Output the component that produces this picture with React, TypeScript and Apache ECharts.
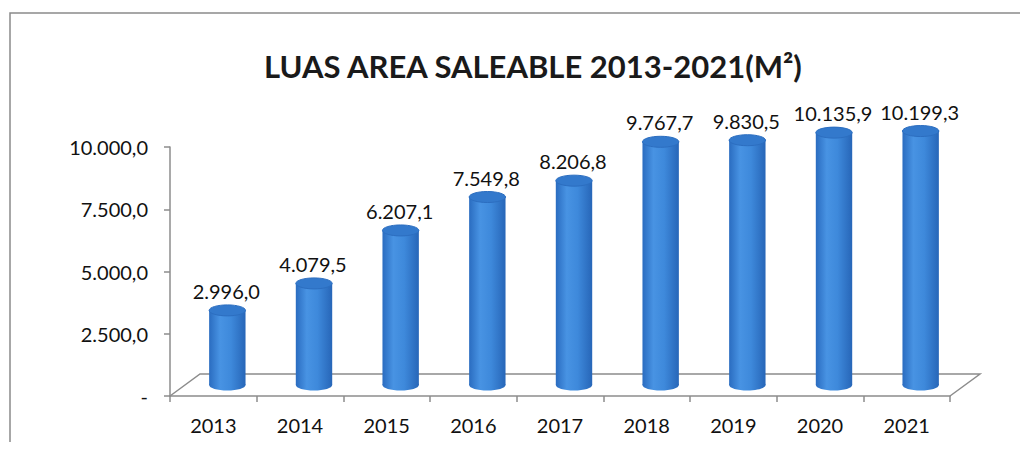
import React, { useEffect, useRef } from "react";
import * as echarts from "echarts";

const years = ["2013", "2014", "2015", "2016", "2017", "2018", "2019", "2020", "2021"];
const saleable = [2996.0, 4079.5, 6207.1, 7549.8, 8206.8, 9767.7, 9830.5, 10135.9, 10199.3];
const yTicks = [0, 2500, 5000, 7500, 10000];
const titleText = "LUAS AREA SALEABLE 2013-2021(M²)";

const FONT = "Lato, 'Open Sans', sans-serif";

function fmtID(v: number): string {
  const fixed = v.toFixed(1);
  const [ip, dp] = fixed.split(".");
  const withDots = ip.replace(/\B(?=(\d{3})+(?!\d))/g, ".");
  return withDots + "," + dp;
}

export default function App() {
  const ref = useRef<HTMLDivElement>(null);
  useEffect(() => {
    if (!ref.current) return;
    const chart = echarts.init(ref.current, undefined, { renderer: "svg" });
    const DX = 14;
    const DY = -11;
    const bodyGrad = new echarts.graphic.LinearGradient(0, 0, 1, 0, [
      { offset: 0, color: "#2a6cc0" },
      { offset: 0.3, color: "#4893e3" },
      { offset: 0.6, color: "#3e89db" },
      { offset: 1, color: "#2766b8" },
    ]);
    chart.setOption({
      animation: false,
      backgroundColor: "#ffffff",
      title: {
        text: titleText,
        left: 520,
        textAlign: "center",
        top: 37,
        textStyle: { fontFamily: FONT, fontWeight: "bold", fontSize: 31, color: "#1a1a1a" },
      },
      graphic: [
        {
          type: "rect",
          shape: { x: 2, y: 5, width: 1100, height: 500 },
          style: { fill: "none", stroke: "#8a8a8a", lineWidth: 1.5 },
          silent: true,
        },
      ],
      grid: { left: 162, right: 70, top: 139, bottom: 46 },
      xAxis: {
        type: "category",
        data: years,
        boundaryGap: true,
        axisLine: { show: true, lineStyle: { color: "#8c8c8c", width: 1.5 } },
        axisTick: { show: true, length: 6, lineStyle: { color: "#8c8c8c", width: 1.5 } },
        axisLabel: { margin: 19, fontFamily: FONT, fontSize: 20, color: "#111111" },
        splitLine: { show: false },
      },
      yAxis: {
        type: "value",
        min: 0,
        max: 10000,
        interval: 2500,
        axisLine: { show: true, lineStyle: { color: "#8c8c8c", width: 1.5 } },
        axisTick: { show: true, length: 6, lineStyle: { color: "#8c8c8c", width: 1.5 } },
        splitLine: { show: false },
        axisLabel: {
          margin: 22,
          fontFamily: FONT,
          fontSize: 20,
          color: "#111111",
          formatter: (v: number) => (yTicks.includes(v) ? (v === 0 ? "-" : fmtID(v)) : ""),
        },
      },
      series: [
        {
          type: "custom",
          name: "floor",
          silent: true,
          clip: false,
          z: 1,
          data: [[0, 0]],
          renderItem: (params: any, api: any) => {
            const cs = params.coordSys;
            const x0 = cs.x;
            const y0 = cs.y + cs.height;
            const x1 = cs.x + cs.width;
            return {
              type: "polyline",
              shape: {
                points: [
                  [x0, y0],
                  [x0 + 30, y0 - 22],
                  [x1 + 30, y0 - 22],
                  [x1, y0],
                ],
              },
              style: { fill: "none", stroke: "#8c8c8c", lineWidth: 1.5 },
            };
          },
        },
        {
          type: "custom",
          name: "Luas",
          clip: false,
          z: 5,
          data: saleable.map((v, i) => [i, v]),
          renderItem: (params: any, api: any) => {
            const cat = api.value(0);
            const v = api.value(1);
            const base = api.coord([cat, 0]);
            const top = api.coord([cat, v]);
            const bw = api.size([1, 0])[0] * 0.42;
            const rx = bw / 2;
            const ry = 5.5;
            const cx = base[0] + DX;
            const by = base[1] + DY;
            const ty = top[1] + DY;
            return {
              type: "group",
              children: [
                { type: "ellipse", shape: { cx, cy: by, rx, ry }, style: { fill: bodyGrad } },
                { type: "rect", shape: { x: cx - rx, y: ty, width: bw, height: by - ty }, style: { fill: bodyGrad } },
                {
                  type: "ellipse",
                  shape: { cx, cy: ty, rx, ry },
                  style: { fill: "#3379cc", stroke: "#2c6ec0", lineWidth: 1 },
                },
                {
                  type: "text",
                  style: {
                    text: fmtID(v),
                    x: cx - 1,
                    y: ty - ry - 4,
                    align: "center",
                    verticalAlign: "bottom",
                    fontFamily: FONT,
                    fontSize: 20,
                    fill: "#111111",
                  },
                },
              ],
            };
          },
        },
      ],
    });
    return () => chart.dispose();
  }, []);
  return <div ref={ref} style={{ width: 1012, height: 434 }} />;
}
